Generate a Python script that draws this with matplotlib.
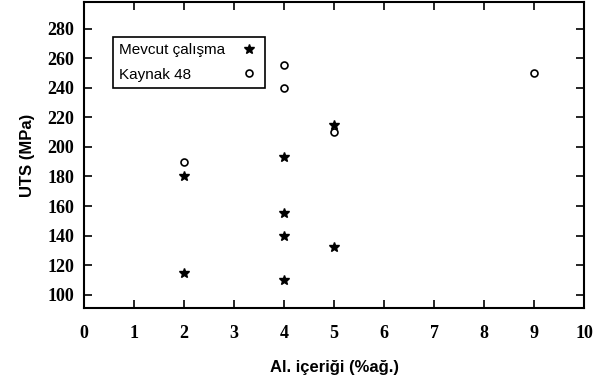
import matplotlib
matplotlib.use("Agg")
import matplotlib.pyplot as plt

# Mevcut calisma (stars)
mevcut_x = [2, 2, 4, 4, 4, 4, 5, 5]
mevcut_y = [180, 115, 193, 155, 140, 110, 215, 132]

# Kaynak 48 (open circles)
kaynak_x = [2, 4, 4, 5, 9]
kaynak_y = [190, 255, 240, 210, 250]

xticks = list(range(0, 11))
yticks = list(range(100, 300, 20))

plt.rcParams['font.family'] = ['Liberation Serif', 'DejaVu Serif']

fig = plt.figure(figsize=(5.94, 3.78), dpi=100)
ax = fig.add_axes([0.141, 0.185, 0.843, 0.81])

ax.plot(mevcut_x, mevcut_y, ls='none', marker='*', ms=7, color='black',
        label='Mevcut çalışma')
ax.plot(kaynak_x, kaynak_y, ls='none', marker='o', ms=5, mfc='white',
        mec='black', mew=1.2, label='Kaynak 48')

ax.set_xlim(0, 10)
ax.set_ylim(91, 298)
ax.set_xticks(xticks)
ax.set_yticks(yticks)
ax.tick_params(direction='in', top=True, right=True, labeltop=False,
               labelright=False, length=6, width=1.2, labelsize=13)
ax.tick_params(axis='x', pad=12)
ax.tick_params(axis='y', pad=7)
for s in ax.spines.values():
    s.set_linewidth(1.5)
for lab in ax.get_xticklabels() + ax.get_yticklabels():
    lab.set_fontweight('bold')

ax.set_xlabel('Al. içeriği (%ağ.)', fontsize=12, fontweight='bold',
              family=['Liberation Sans', 'DejaVu Sans'], labelpad=13)
ax.set_ylabel('UTS (MPa)', fontsize=12, fontweight='bold',
              family=['Liberation Sans', 'DejaVu Sans'], labelpad=9)

leg = ax.legend(loc='upper left', bbox_to_anchor=(0.058, 0.886),
                markerfirst=False, fancybox=False, edgecolor='black',
                framealpha=1, handletextpad=1.0, handlelength=1.2,
                borderpad=0.4, labelspacing=0.7, borderaxespad=0,
                prop={'family': ['Liberation Sans', 'DejaVu Sans'],
                      'size': 11})
leg.get_frame().set_linewidth(1.2)

# left-align legend texts while keeping markers in one column
fig.canvas.draw()
r = fig.canvas.get_renderer()
widths = [t.get_window_extent(r).width for t in leg.get_texts()]
wmax = max(widths)
for col in leg._legend_handle_box.get_children():
    col.align = 'left'
    for entry, w in zip(col.get_children(), widths):
        entry.sep = entry.sep + (wmax - w) * 72 / fig.dpi

fig.savefig('out.png', dpi=100)
